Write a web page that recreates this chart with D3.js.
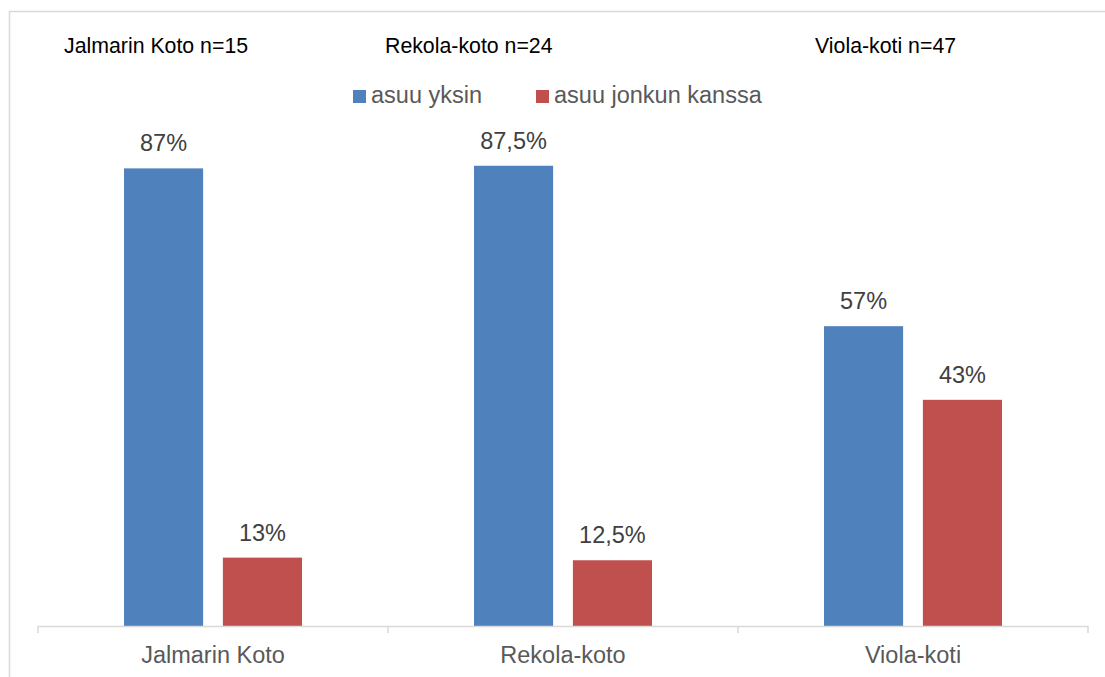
<!DOCTYPE html>
<html>
<head>
<meta charset="utf-8">
<script src="https://cdnjs.cloudflare.com/ajax/libs/d3/7.8.5/d3.min.js"></script>
<style>
  body { margin: 0; background: white; }
  text { font-family: "Liberation Sans", Arial, sans-serif; }
</style>
</head>
<body></body>
<script>
var categories = ["Jalmarin Koto", "Rekola-koto", "Viola-koti"];
var seriesNames = ["asuu yksin", "asuu jonkun kanssa"];
var yksin = [87, 87.5, 57];
var kanssa = [13, 12.5, 43];
var valueLabels = [["87%", "13%"], ["87,5%", "12,5%"], ["57%", "43%"]];
var titles = ["Jalmarin Koto n=15", "Rekola-koto n=24", "Viola-koti n=47"];
var colors = ["#4F81BD", "#C0504D"];

var width = 1105, height = 677;
var svg = d3.select("body").append("svg")
  .attr("width", width)
  .attr("height", height);

// chart frame (cut off at right and bottom)
svg.append("path")
  .attr("d", "M9.5,677 L9.5,11.5 L1105,11.5")
  .attr("fill", "none")
  .attr("stroke", "#D9D9D9")
  .attr("stroke-width", 1.5);

var x0 = d3.scaleBand().domain(categories).range([38, 1088]);
var x1 = d3.scaleBand().domain(seriesNames).range([86, 264]).paddingInner(0.2);
var y = d3.scaleLinear().domain([0, 100]).range([626, 100]);

var data = categories.map(function(c, i) {
  return {cat: c, vals: [yksin[i], kanssa[i]], labels: valueLabels[i]};
});

var groups = svg.selectAll("g.cat").data(data).enter().append("g")
  .attr("class", "cat")
  .attr("transform", function(d) { return "translate(" + x0(d.cat) + ",0)"; });

groups.selectAll("rect").data(function(d) {
    return d.vals.map(function(v, j) { return {s: seriesNames[j], v: v, lab: d.labels[j], c: colors[j]}; });
  }).enter().append("rect")
  .attr("x", function(d) { return x1(d.s); })
  .attr("width", x1.bandwidth())
  .attr("y", function(d) { return y(d.v); })
  .attr("height", function(d) { return y(0) - y(d.v); })
  .attr("fill", function(d) { return d.c; });

groups.selectAll("text.val").data(function(d) {
    return d.vals.map(function(v, j) { return {s: seriesNames[j], v: v, lab: d.labels[j]}; });
  }).enter().append("text")
  .attr("class", "val")
  .attr("x", function(d) { return x1(d.s) + x1.bandwidth() / 2; })
  .attr("y", function(d) { return y(d.v) - 17; })
  .attr("text-anchor", "middle")
  .attr("font-size", "23.5px")
  .attr("fill", "#404040")
  .text(function(d) { return d.lab; });

// x axis
var axis = svg.append("g");
axis.append("line")
  .attr("x1", 38).attr("x2", 1088)
  .attr("y1", 626.5).attr("y2", 626.5)
  .attr("stroke", "#D9D9D9").attr("stroke-width", 1.5);
var tickPos = categories.map(function(c) { return x0(c); }).concat([x0.range()[1]]);
axis.selectAll("line.tick").data(tickPos).enter().append("line")
  .attr("class", "tick")
  .attr("x1", function(d) { return d; }).attr("x2", function(d) { return d; })
  .attr("y1", 626).attr("y2", 633)
  .attr("stroke", "#D9D9D9").attr("stroke-width", 1.5);
axis.selectAll("text").data(categories).enter().append("text")
  .attr("x", function(d) { return x0(d) + x0.bandwidth() / 2; })
  .attr("y", 663)
  .attr("text-anchor", "middle")
  .attr("font-size", "23.5px")
  .attr("fill", "#595959")
  .text(function(d) { return d; });

// titles above groups
var titleX = [64, 385, 815];
svg.selectAll("text.title").data(titles).enter().append("text")
  .attr("class", "title")
  .attr("x", function(d, i) { return titleX[i]; })
  .attr("y", 53)
  .attr("font-size", "21.3px")
  .attr("fill", "#000")
  .text(function(d) { return d; });

// legend
var legX = [353, 536];
var leg = svg.selectAll("g.leg").data(seriesNames).enter().append("g")
  .attr("class", "leg")
  .attr("transform", function(d, i) { return "translate(" + legX[i] + ",0)"; });
leg.append("rect")
  .attr("x", 0).attr("y", 90).attr("width", 13).attr("height", 13)
  .attr("fill", function(d, i) { return colors[i]; });
leg.append("text")
  .attr("x", 18).attr("y", 103)
  .attr("font-size", "23.5px")
  .attr("fill", "#595959")
  .text(function(d) { return d; });
</script>
</html>
